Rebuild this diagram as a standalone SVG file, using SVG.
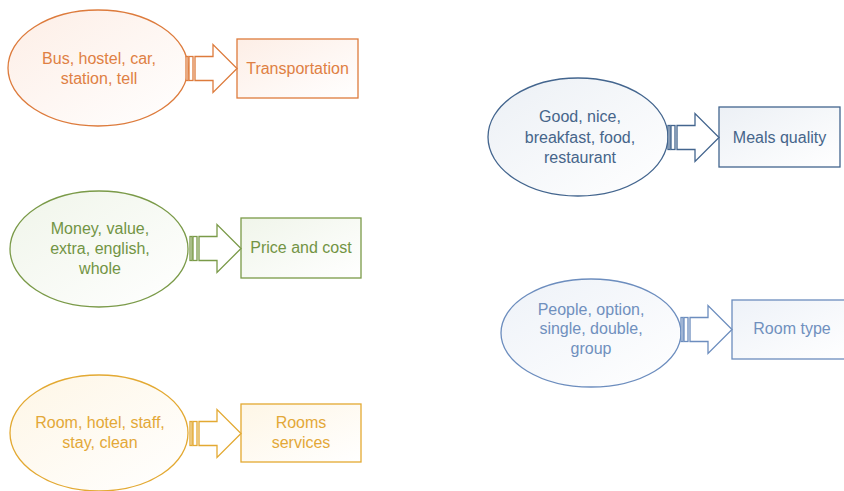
<svg xmlns="http://www.w3.org/2000/svg" xmlns:xlink="http://www.w3.org/1999/xlink" width="844" height="491" viewBox="0 0 844 491">
  <defs>
    <linearGradient id="gOrange" x1="0" y1="0" x2="1" y2="1">
      <stop offset="0" stop-color="#FDEEE6"/>
      <stop offset="1" stop-color="#FFFFFF"/>
    </linearGradient>
    <linearGradient id="gGreen" x1="0" y1="0" x2="1" y2="1">
      <stop offset="0" stop-color="#F0F5EA"/>
      <stop offset="1" stop-color="#FFFFFF"/>
    </linearGradient>
    <linearGradient id="gYellow" x1="0" y1="0" x2="1" y2="1">
      <stop offset="0" stop-color="#FEF6E6"/>
      <stop offset="1" stop-color="#FFFFFF"/>
    </linearGradient>
    <linearGradient id="gNavy" x1="0" y1="0" x2="1" y2="1">
      <stop offset="0" stop-color="#ECF0F5"/>
      <stop offset="1" stop-color="#FFFFFF"/>
    </linearGradient>
    <linearGradient id="gBlue" x1="0" y1="0" x2="1" y2="1">
      <stop offset="0" stop-color="#EEF2F8"/>
      <stop offset="1" stop-color="#FFFFFF"/>
    </linearGradient>
    <!-- striped block arrow, origin at the left stripe, vertically centred -->
    <g id="stripedArrow">
      <rect class="bar" x="0" y="-12" width="2" height="24"/>
      <rect class="bar" x="3" y="-12" width="4" height="24"/>
      <path d="M9,-12 H27 V-24 L51,0 L27,24 V12 H9 Z"/>
    </g>
  </defs>
  <style>
    text { font-family: "Liberation Sans", Arial, sans-serif; font-size: 16px; text-anchor: middle; }
    ellipse, rect, path { stroke-width: 1.3; }
    .orange { stroke: #DD7B3C; fill: url(#gOrange); }
    .green { stroke: #7A9A48; fill: url(#gGreen); }
    .yellow { stroke: #E3A932; fill: url(#gYellow); }
    .navy { stroke: #43658E; fill: url(#gNavy); }
    .blue { stroke: #6C8DBE; fill: url(#gBlue); }
    .t-orange { fill: #DF8043; }
    .t-green { fill: #729444; }
    .t-yellow { fill: #E3A838; }
    .t-navy { fill: #46658A; }
    .t-blue { fill: #7090BE; }
    .a-orange { stroke: #DD7B3C; fill: #FFFFFF; }
    .a-green { stroke: #7A9A48; fill: #FFFFFF; }
    .a-yellow { stroke: #E3A932; fill: #FFFFFF; }
    .a-navy { stroke: #43658E; fill: #FFFFFF; }
    .a-blue { stroke: #6C8DBE; fill: #FFFFFF; }
    .a-orange .bar, .a-green .bar, .a-yellow .bar, .a-navy .bar, .a-blue .bar { stroke-width: 1; }
  </style>
  <rect width="844" height="491" fill="#FFFFFF"/>

  <!-- keyword clusters -->
  <g id="kw-transport">
    <ellipse class="orange" cx="98" cy="68" rx="90" ry="58"/>
    <text class="t-orange" x="99" y="64">Bus, hostel, car,</text>
    <text class="t-orange" x="99" y="84">station, tell</text>
  </g>
  <g id="kw-price">
    <ellipse class="green" cx="99" cy="249" rx="89" ry="58"/>
    <text class="t-green" x="100" y="234">Money, value,</text>
    <text class="t-green" x="100" y="254">extra, english,</text>
    <text class="t-green" x="100" y="274">whole</text>
  </g>
  <g id="kw-rooms">
    <ellipse class="yellow" cx="99" cy="433" rx="89" ry="58"/>
    <text class="t-yellow" x="100" y="428">Room, hotel, staff,</text>
    <text class="t-yellow" x="100" y="448">stay, clean</text>
  </g>
  <g id="kw-meals">
    <ellipse class="navy" cx="578" cy="137" rx="90" ry="59"/>
    <text class="t-navy" x="580" y="122">Good, nice,</text>
    <text class="t-navy" x="580" y="143">breakfast, food,</text>
    <text class="t-navy" x="580" y="163">restaurant</text>
  </g>
  <g id="kw-roomtype">
    <ellipse class="blue" cx="591" cy="333" rx="90" ry="54"/>
    <text class="t-blue" x="591" y="315">People, option,</text>
    <text class="t-blue" x="591" y="334">single, double,</text>
    <text class="t-blue" x="591" y="354">group</text>
  </g>

  <!-- topic boxes -->
  <g id="topic-transport">
    <rect class="orange" x="237" y="39" width="121" height="59"/>
    <text class="t-orange" x="297.5" y="74">Transportation</text>
  </g>
  <g id="topic-price">
    <rect class="green" x="241" y="218" width="120" height="60"/>
    <text class="t-green" x="301" y="253">Price and cost</text>
  </g>
  <g id="topic-rooms">
    <rect class="yellow" x="241" y="404" width="120" height="58"/>
    <text class="t-yellow" x="301" y="428">Rooms</text>
    <text class="t-yellow" x="301" y="448">services</text>
  </g>
  <g id="topic-meals">
    <rect class="navy" x="719" y="107" width="121" height="60"/>
    <text class="t-navy" x="779.5" y="143">Meals quality</text>
  </g>
  <g id="topic-roomtype">
    <rect class="blue" x="732" y="300" width="120" height="59"/>
    <text class="t-blue" x="792" y="334">Room type</text>
  </g>

  <!-- connectors -->
  <g id="connectors">
    <use xlink:href="#stripedArrow" class="a-orange" x="186" y="68.5"/>
    <use xlink:href="#stripedArrow" class="a-green" x="190" y="248.5"/>
    <use xlink:href="#stripedArrow" class="a-yellow" x="190" y="433.5"/>
    <use xlink:href="#stripedArrow" class="a-navy" x="668" y="137.5"/>
    <use xlink:href="#stripedArrow" class="a-blue" x="681" y="329.5"/>
  </g>
</svg>
